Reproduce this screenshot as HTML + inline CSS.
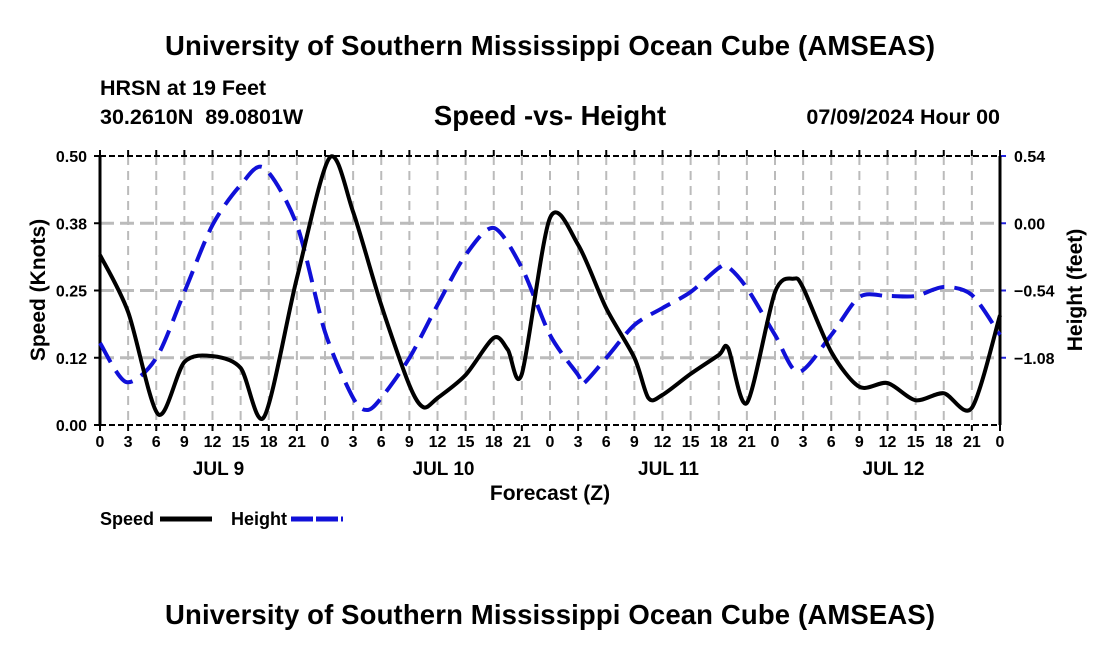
<!DOCTYPE html>
<html><head><meta charset="utf-8"><style>
body{margin:0;background:#fff;}
svg text{font-family:"Liberation Sans",Arial,sans-serif;font-weight:bold;fill:#000;white-space:pre;}
</style></head><body>
<svg id="c" width="1100" height="650" viewBox="0 0 1100 650">
<text x="550" y="55" font-size="27.5" text-anchor="middle" textLength="770">University of Southern Mississippi Ocean Cube (AMSEAS)</text>
<text x="100" y="95" font-size="21.5">HRSN at 19 Feet</text>
<text x="100" y="124" font-size="21.5" xml:space="preserve">30.2610N  89.0801W</text>
<text x="550" y="125" font-size="27.5" text-anchor="middle">Speed -vs- Height</text>
<text x="1000" y="124" font-size="21.5" text-anchor="end">07/09/2024 Hour 00</text>
<g id="grid"></g><g id="axes"></g><g id="series"></g>
<text x="550" y="500" font-size="21" text-anchor="middle">Forecast (Z)</text>
<text transform="translate(45,290) rotate(-90)" font-size="21" text-anchor="middle">Speed (Knots)</text>
<text transform="translate(1082,290) rotate(-90)" font-size="21" text-anchor="middle">Height (feet)</text>
<g>
<text x="100" y="525" font-size="18">Speed</text>
<line x1="160" y1="519" x2="212" y2="519" stroke="#000" stroke-width="5"/>
<text x="231" y="525" font-size="18">Height</text>
<line x1="291" y1="519" x2="343" y2="519" stroke="#1010d8" stroke-width="5" stroke-dasharray="22,3"/>
</g>
<text x="550" y="624" font-size="27.5" text-anchor="middle" textLength="770">University of Southern Mississippi Ocean Cube (AMSEAS)</text>
</svg>
<script>
const speedHours=[0,3,6.2,9,12,15,17.5,21,24.5,27,30,33,34.5,36,39,42,43.5,45,48,51,54,57,58.5,60,63,66,67,69,72,74,75,78,81,84,87,90,93,96];
const speedValues=[0.316,0.21,0.02,0.117,0.128,0.106,0.015,0.273,0.497,0.396,0.223,0.074,0.033,0.05,0.093,0.162,0.14,0.095,0.385,0.335,0.217,0.125,0.05,0.056,0.095,0.13,0.143,0.041,0.247,0.272,0.255,0.136,0.071,0.078,0.046,0.059,0.032,0.204];
const heightHours=[0,2.8,6,9,12,15,17.5,21,24,27,28.5,30,33,36,39,42,45,48,51,51.5,54,57,60,63,66,67,69,72,74.5,78,81,84,87,90,93,96];
const heightValues=[-0.962,-1.275,-1.082,-0.552,-0.014,0.307,0.444,-0.014,-0.873,-1.403,-1.5,-1.403,-1.082,-0.656,-0.255,-0.038,-0.359,-0.897,-1.219,-1.291,-1.082,-0.817,-0.681,-0.552,-0.359,-0.351,-0.52,-0.897,-1.195,-0.897,-0.592,-0.584,-0.584,-0.512,-0.576,-0.897];
const speedTicks=[0,0.125,0.25,0.375,0.5];
const speedTickLabels=["0.00","0.12","0.25","0.38","0.50"];
const heightTicks=[0.54,0,-0.54,-1.08];
const heightTickLabels=["0.54","0.00","\u22120.54","\u22121.08"];
const dayLabels=["JUL 9","JUL 10","JUL 11","JUL 12"];
const X0=100,X1=1000,Y0=425,Y1=156;
const xs=h=>X0+(X1-X0)*h/96;
const ys=v=>Y0-(Y0-Y1)*v/0.5;
const yh=v=>Y1+(0.54-v)*(Y0-Y1)/2.16;
const NS="http://www.w3.org/2000/svg";
function mk(tag,attrs,parent){const e=document.createElementNS(NS,tag);for(const k in attrs)e.setAttribute(k,attrs[k]);parent.appendChild(e);return e;}
const grid=document.getElementById('grid'),axes=document.getElementById('axes'),series=document.getElementById('series');
for(let h=3;h<96;h+=3){const l=mk('line',{x1:xs(h),x2:xs(h),y1:Y1,y2:Y0,stroke:'#bbb','stroke-width':2,'stroke-dasharray':'9,6'},grid);

}
speedTicks.forEach((t,i)=>{const y=ys(t);
if(t>0&&t<0.5){const g=mk('line',{x1:X0,x2:X1,y1:y,y2:y,stroke:'#bbb','stroke-width':3,'stroke-dasharray':'14,6'},grid);

}
const tk=mk('line',{x1:X0-6,x2:X0,y1:y,y2:y,stroke:'#000','stroke-width':2},axes);


const tx=mk('text',{x:X0-13,y:y+6,'font-size':16,'text-anchor':'end'},axes);tx.textContent=speedTickLabels[i];

});
heightTicks.forEach((t,i)=>{const y=yh(t);
const tk=mk('line',{x1:X1,x2:X1+6,y1:y,y2:y,stroke:'#2222dd','stroke-width':2},axes);


const tx=mk('text',{x:X1+14,y:y+6,'font-size':16},axes);tx.textContent=heightTickLabels[i];

});
[Y1,Y0].forEach(y=>{const b=mk('line',{x1:X0,x2:X1,y1:y,y2:y,stroke:'#000','stroke-width':2,'stroke-dasharray':'6,3'},axes);

});
[X0,X1].forEach(x=>{const b=mk('line',{x1:x,x2:x,y1:Y1,y2:Y0,stroke:'#000','stroke-width':3},axes);

});
for(let h=0;h<=96;h+=3){const x=xs(h);
const t=mk('line',{x1:x,x2:x,y1:Y0,y2:Y0+6,stroke:'#000','stroke-width':2},axes);


const tl=mk('line',{x1:x,x2:x,y1:Y1-6,y2:Y1,stroke:'#000','stroke-width':2},axes);


const tx=mk('text',{x:x,y:447,'font-size':16,'text-anchor':'middle'},axes);tx.textContent=String(h%24);

}
dayLabels.forEach((d,i)=>{const tx=mk('text',{x:xs(12+24*i)+6,y:475,'font-size':19,'text-anchor':'middle'},axes);tx.textContent=d;

});
function smooth(hs,vs,fy){const P=hs.map((h,i)=>[xs(h),fy(vs[i])]);let d='M'+P[0][0]+','+P[0][1];
for(let i=0;i<P.length-1;i++){const p0=P[Math.max(0,i-1)],p1=P[i],p2=P[i+1],p3=P[Math.min(P.length-1,i+2)];
const c1=[p1[0]+(p2[0]-p0[0])/7,p1[1]+(p2[1]-p0[1])/7],c2=[p2[0]-(p3[0]-p1[0])/7,p2[1]-(p3[1]-p1[1])/7];
d+=' C'+c1+' '+c2+' '+p2;}return d;}
const hp=mk('path',{d:smooth(heightHours,heightValues,yh),fill:'none',stroke:'#1010d8','stroke-width':4,'stroke-dasharray':'22,10'},series);


const sp=mk('path',{d:smooth(speedHours,speedValues,ys),fill:'none',stroke:'#000','stroke-width':4},series);


</script>
</body></html>
